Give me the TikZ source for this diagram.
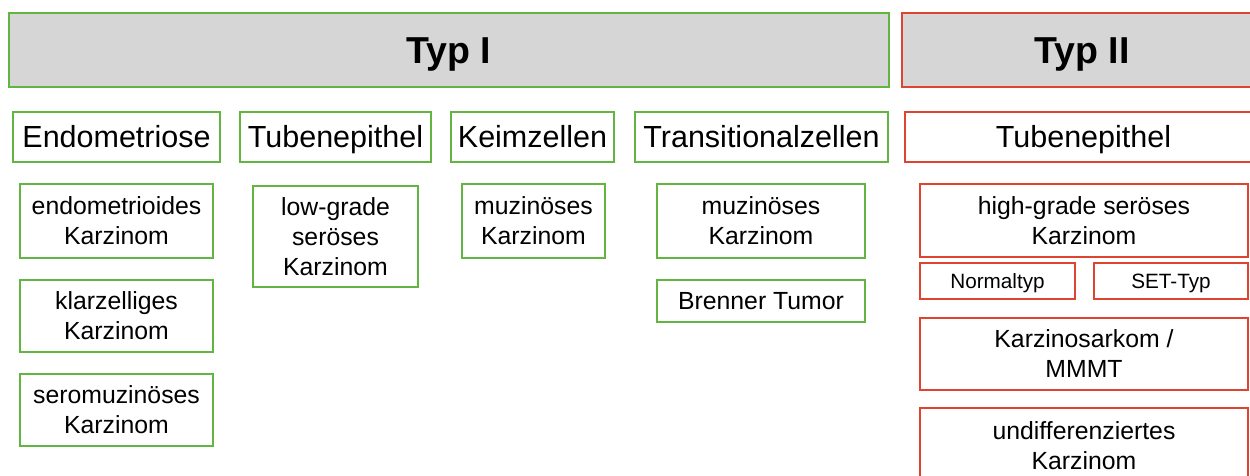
\documentclass[tikz,border=0pt]{standalone}
\usepackage{fontspec}
\setmainfont{Liberation Sans}
\definecolor{boxgreen}{RGB}{98,181,64}
\definecolor{boxred}{RGB}{222,68,48}
\definecolor{headgray}{RGB}{214,214,214}
\tikzset{
  gbox/.style={draw=boxgreen, line width=2pt, inner sep=0pt, align=center, text depth=0pt},
  rbox/.style={draw=boxred, line width=2pt, inner sep=0pt, align=center, text depth=0pt},
  headbox/.style={fill=headgray, font=\fontsize{37.5}{42}\selectfont\bfseries, text height=26.9pt},
  catbox/.style={fill=white, font=\fontsize{30.5}{35}\selectfont, text height=21.8pt},
  leafbox/.style={fill=white, font=\fontsize{24.8}{30}\selectfont},
  leafone/.style={text height=17.8pt},
  subbox/.style={fill=white, font=\fontsize{20.7}{24}\selectfont, text height=14.8pt},
}
\newcommand{\bx}[7]{% name, style, x1, y1, x2, y2, text
  \node[#2, minimum width={#5-#3}, minimum height={#6-#4}] (#1) at ({(#3+#5)/2},{(#4+#6)/2}) {#7};}
\begin{document}
\begin{tikzpicture}[x=1pt,y=-1pt]
\useasboundingbox (0,0) rectangle (1250,475);
\clip (0,0) rectangle (1250,475);
% headers
\bx{typI}{gbox,headbox}{9}{13}{889}{87}{Typ I}
\bx{typII}{rbox,headbox}{902}{13}{1262}{87}{Typ II}
% categories
\bx{endo}{gbox,catbox}{13}{112}{220}{162}{Endometriose}
\bx{tube}{gbox,catbox}{240}{112}{431}{162}{Tubenepithel}
\bx{keim}{gbox,catbox}{451}{112}{614}{162}{Keimzellen}
\bx{trans}{gbox,catbox}{635}{112}{888}{162}{Transitionalzellen}
\bx{tubeII}{rbox,catbox}{905}{112}{1262}{162}{Tubenepithel}
% Typ I leaves
\bx{endoid}{gbox,leafbox}{20}{184}{213}{258}{endometrioides\\Karzinom}
\bx{klar}{gbox,leafbox}{20}{280}{213}{352}{klarzelliges\\Karzinom}
\bx{seromuz}{gbox,leafbox}{20}{374}{213}{446}{seromuzinöses\\Karzinom}
\bx{lowgrade}{gbox,leafbox}{253}{186}{418}{287}{low-grade\\seröses\\Karzinom}
\bx{muzK}{gbox,leafbox}{462}{184}{605}{258}{muzinöses\\Karzinom}
\bx{muzT}{gbox,leafbox}{657}{184}{865}{258}{muzinöses\\Karzinom}
\bx{brenner}{gbox,leafbox,leafone}{657}{280}{865}{322}{Brenner Tumor}
% Typ II leaves
\bx{highgrade}{rbox,leafbox}{920}{184}{1248}{257}{high-grade seröses\\Karzinom}
\bx{normal}{rbox,subbox}{920}{263}{1075}{299}{Normaltyp}
\bx{settyp}{rbox,subbox}{1094}{263}{1248}{299}{SET-Typ}
\bx{karsark}{rbox,leafbox}{920}{318}{1248}{390}{Karzinosarkom /\\MMMT}
\bx{undiff}{rbox,leafbox}{920}{408}{1248}{484}{undifferenziertes\\Karzinom}
\end{tikzpicture}
\end{document}
